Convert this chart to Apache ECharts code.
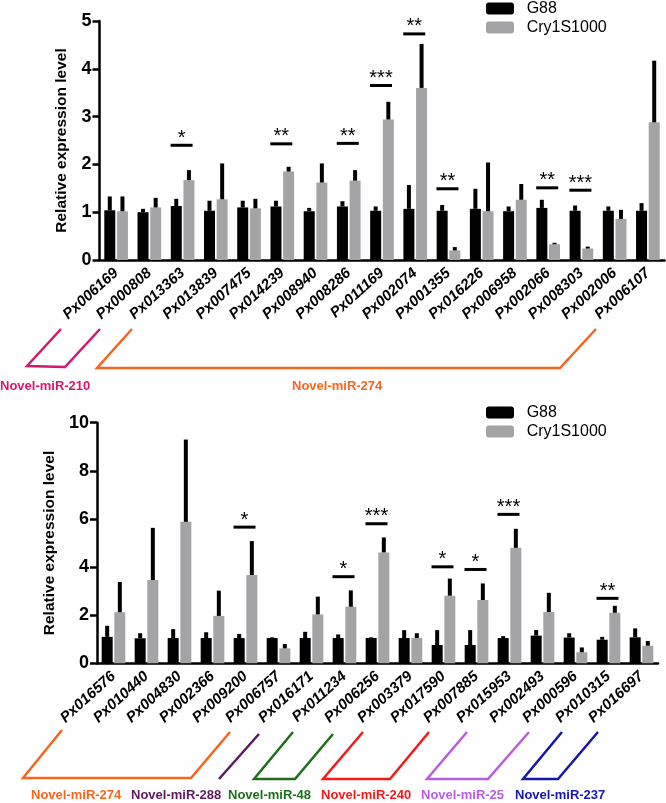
<!DOCTYPE html>
<html><head><meta charset="utf-8">
<script src="https://cdn.jsdelivr.net/npm/echarts/dist/echarts.min.js"></script>
<style>html,body{margin:0;padding:0;background:#fff}#c{width:666px;height:803px}</style>
</head><body><div id="c"></div>
<script>
// ---------- DATA ----------
const topCats = ['Px006169','Px000808','Px013363','Px013839','Px007475','Px014239','Px008940','Px008286','Px011169','Px002074','Px001355','Px016226','Px006958','Px002066','Px008303','Px002006','Px006107'];
const topG88 = [1.04,1.00,1.13,1.03,1.10,1.12,1.02,1.12,1.03,1.07,1.03,1.07,1.02,1.09,1.03,1.03,1.03];
const topG88Sd = [0.29,0.07,0.15,0.21,0.14,0.12,0.07,0.11,0.09,0.50,0.12,0.42,0.10,0.17,0.11,0.09,0.16];
const topCry = [1.02,1.10,1.67,1.27,1.08,1.85,1.62,1.66,2.94,3.60,0.20,1.02,1.26,0.33,0.24,0.86,2.88];
const topCrySd = [0.31,0.20,0.21,0.75,0.20,0.10,0.40,0.22,0.37,0.92,0.07,1.02,0.33,0.03,0.04,0.19,1.29];
const topSigIdx = [2,5,7,8,9,10,13,14];
const topSigText = ['*','**','**','***','**','**','**','***'];
const topSigLevel = [2.40,2.43,2.44,3.65,4.73,1.49,1.51,1.46];
const topTicks = [0,1,2,3,4,5];

const botCats = ['Px016576','Px010440','Px004830','Px002366','Px009200','Px006757','Px016171','Px011234','Px006256','Px003379','Px017590','Px007885','Px015953','Px002493','Px000596','Px010315','Px016697'];
const botG88 = [1.10,1.04,1.05,1.05,1.05,1.05,1.05,1.05,1.05,1.05,0.76,0.76,1.05,1.15,1.07,0.98,1.08];
const botG88Sd = [0.46,0.21,0.37,0.24,0.17,0.03,0.26,0.15,0.03,0.33,0.62,0.62,0.08,0.23,0.18,0.12,0.37];
const botCry = [2.12,3.46,5.88,1.97,3.67,0.62,2.03,2.35,4.61,1.05,2.81,2.63,4.80,2.13,0.46,2.10,0.73];
const botCrySd = [1.26,2.17,3.42,1.05,1.41,0.18,0.74,0.68,0.62,0.20,0.71,0.69,0.79,0.80,0.20,0.29,0.20];
const botSigIdx = [4,7,8,10,11,12,15];
const botSigText = ['*','*','***','*','*','***','**'];
const botSigLevel = [5.66,3.60,5.80,4.01,3.90,6.19,2.70];
const botTicks = [0,2,4,6,8,10];

const seriesNames = ['G88','Cry1S1000'];
const yTitle = 'Relative expression level';

// group annotations (miRNA brackets)
const topGroups = ['Novel-miR-210','Novel-miR-274'];
const botGroups = ['Novel-miR-274','Novel-miR-288','Novel-miR-48','Novel-miR-240','Novel-miR-25','Novel-miR-237'];

// ---------- LAYOUT / STYLE ----------
const FONT = '"Liberation Sans", Arial, sans-serif';
const BLACK = '#000000', GRAY = '#a4a4a7';
const topGroupStyle = [
  {color:'#d4186f', pts:[[61,329],[27,366],[65,367],[100,329]], lx:0, ly:388},
  {color:'#f7661c', pts:[[132,329],[97,368],[560,368],[596,329]], lx:292, ly:388}
];
const botGroupStyle = [
  {color:'#f7661c', pts:[[62,730],[23,778],[191,778],[230,732]], lx:31, ly:797},
  {color:'#5c1a5c', pts:[[259,734],[219,779]], lx:131, ly:797},
  {color:'#1e6e1e', pts:[[293,732],[254,779],[295,779],[333,734]], lx:228, ly:797},
  {color:'#f51a1a', pts:[[363,732],[323,779],[390,779],[429,732]], lx:321, ly:797},
  {color:'#b85de0', pts:[[467,732],[427,779],[488,779],[529,732]], lx:421, ly:797},
  {color:'#1616b0', pts:[[562,732],[523,779],[558,779],[598,732]], lx:515, ly:797}
];
const BAR_W = 11, BAR_OFF = 6.33;

function errRender(offset){
  return function(params, api){
    const i = api.value(0), m = api.value(1), sd = api.value(2);
    if (!(sd > 0)) return null;
    const p0 = api.coord([i, m]), p1 = api.coord([i, m + sd]);
    const x = p0[0] + offset;
    return {type:'line', shape:{x1:x, y1:p0[1], x2:x, y2:p1[1]}, style:{stroke:'#000', lineWidth:4}};
  };
}
function sigRender(texts){
  return function(params, api){
    const p = api.coord([api.value(0), api.value(1)]);
    const x0 = p[0] - 12, x1 = p[0] + 10;
    return {type:'group', children:[
      {type:'line', shape:{x1:x0, y1:p[1], x2:x1, y2:p[1]}, style:{stroke:'#000', lineWidth:3}},
      {type:'text', x:(x0+x1)/2, y:p[1]-7, style:{text:texts[params.dataIndex], font:'20px ' + FONT, fill:'#000', align:'center', verticalAlign:'middle'}}
    ]};
  };
}
function xAxisCfg(cats, gi){
  return {type:'category', gridIndex:gi, data:cats, boundaryGap:true,
    axisLine:{lineStyle:{color:'#000', width:2.5}},
    axisTick:{alignWithLabel:true, length:7, lineStyle:{color:'#000', width:2.5}},
    axisLabel:{interval:0, rotate:42, margin:11, color:'#000', fontSize:15, fontWeight:'bold', fontStyle:'italic', fontFamily:FONT}};
}
function yAxisCfg(max, interval, gi){
  return {type:'value', gridIndex:gi, min:0, max:max, interval:interval,
    name:yTitle, nameLocation:'middle', nameGap:30,
    nameTextStyle:{color:'#000', fontSize:15.5, fontWeight:'bold', fontFamily:FONT},
    splitLine:{show:false},
    axisLine:{show:true, lineStyle:{color:'#000', width:2.5}},
    axisTick:{show:true, length:7, lineStyle:{color:'#000', width:2.5}},
    axisLabel:{margin:8, color:'#000', fontSize:18, fontWeight:'bold', fontFamily:FONT}};
}
function legendCfg(top){
  return {orient:'vertical', left:486, top:top, itemWidth:28, itemHeight:12, itemGap:2, padding:0,
    icon:'roundRect', selectedMode:false, data:seriesNames,
    formatter: function(name){ return ' \u2009' + name; },
    textStyle:{color:'#000', fontSize:16, lineHeight:17, fontFamily:FONT}};
}
function groupGraphics(names, styles){
  const out = [];
  names.forEach((n, k) => {
    const s = styles[k];
    out.push({type:'polyline', shape:{points:s.pts}, style:{stroke:s.color, lineWidth:2.5, fill:null}});
    out.push({type:'text', left:s.lx, top:s.ly - 8, style:{text:n, fill:s.color, font:'bold 13px ' + FONT}});
  });
  return out;
}

const option = {
  animation:false,
  backgroundColor:'#fff',
  textStyle:{fontFamily:FONT},
  legend:[legendCfg(0), legendCfg(404)],
  grid:[
    {left:99.5, top:21, width:565, height:239},
    {left:97, top:422.7, width:561, height:240.6}
  ],
  xAxis:[xAxisCfg(topCats,0), xAxisCfg(botCats,1)],
  yAxis:[yAxisCfg(5,1,0), yAxisCfg(10,2,1)],
  series:[
    {name:seriesNames[0], type:'bar', xAxisIndex:0, yAxisIndex:0, data:topG88, barWidth:BAR_W, barGap:'15%', itemStyle:{color:BLACK}},
    {name:seriesNames[1], type:'bar', xAxisIndex:0, yAxisIndex:0, data:topCry, barWidth:BAR_W, barGap:'15%', itemStyle:{color:GRAY}},
    {name:seriesNames[0], type:'bar', xAxisIndex:1, yAxisIndex:1, data:botG88, barWidth:BAR_W, barGap:'15%', itemStyle:{color:BLACK}},
    {name:seriesNames[1], type:'bar', xAxisIndex:1, yAxisIndex:1, data:botCry, barWidth:BAR_W, barGap:'15%', itemStyle:{color:GRAY}},
    {name:'errTopG', type:'custom', xAxisIndex:0, yAxisIndex:0, z:5, renderItem:errRender(-BAR_OFF), data:topG88.map((v,i)=>[i,v,topG88Sd[i]])},
    {name:'errTopC', type:'custom', xAxisIndex:0, yAxisIndex:0, z:5, renderItem:errRender(BAR_OFF), data:topCry.map((v,i)=>[i,v,topCrySd[i]])},
    {name:'errBotG', type:'custom', xAxisIndex:1, yAxisIndex:1, z:5, renderItem:errRender(-BAR_OFF), data:botG88.map((v,i)=>[i,v,botG88Sd[i]])},
    {name:'errBotC', type:'custom', xAxisIndex:1, yAxisIndex:1, z:5, renderItem:errRender(BAR_OFF), data:botCry.map((v,i)=>[i,v,botCrySd[i]])},
    {name:'sigTop', type:'custom', xAxisIndex:0, yAxisIndex:0, z:5, renderItem:sigRender(topSigText), data:topSigIdx.map((i,k)=>[i, topSigLevel[k]])},
    {name:'sigBot', type:'custom', xAxisIndex:1, yAxisIndex:1, z:5, renderItem:sigRender(botSigText), data:botSigIdx.map((i,k)=>[i, botSigLevel[k]])}
  ],
  graphic: groupGraphics(topGroups, topGroupStyle).concat(groupGraphics(botGroups, botGroupStyle))
};
const chart = echarts.init(document.getElementById('c'), null, {renderer:'canvas'});
chart.setOption(option);
</script></body></html>
